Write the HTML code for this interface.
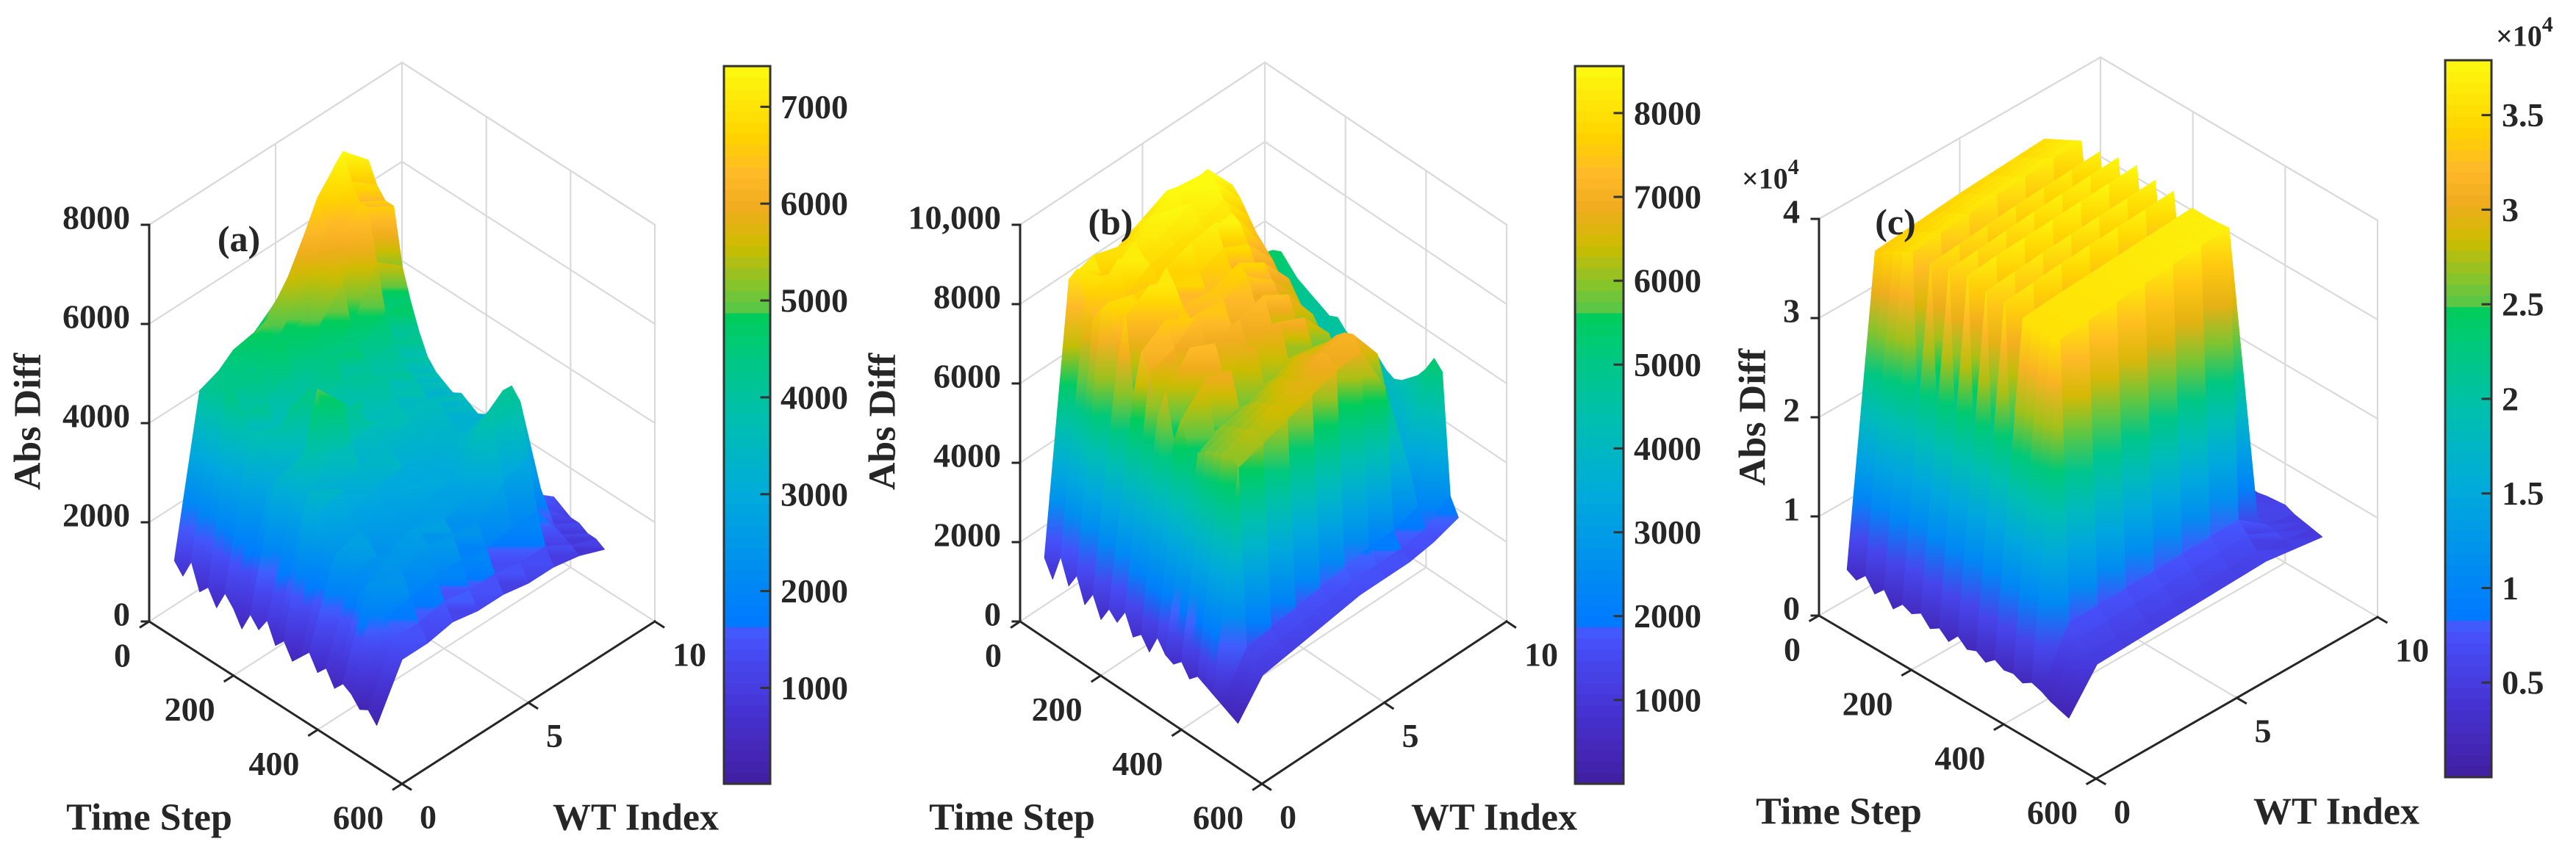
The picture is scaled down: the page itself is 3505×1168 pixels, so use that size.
<!DOCTYPE html>
<html><head><meta charset="utf-8"><style>
html,body{margin:0;padding:0;background:#fff;}
svg{display:block;}
text{font-family:"Liberation Serif","DejaVu Serif",serif;font-weight:bold;fill:#262626;}
</style></head><body>
<svg id="fig" width="3505" height="1168" viewBox="0 0 3505 1168" xmlns="http://www.w3.org/2000/svg">
<defs id="defs"></defs>
</svg>
<script>
const timeSteps=[0,20,40,60,80,100,120,140,160,180,200,220,240,260,280,300,320,340,360,380,400,420,440,460,480];
const wtIndex=[1,2,3,4,5,6,7,8,9,10];
const zA=[
[900,700,1100,600,800,500,900,700,400,800,600,900,500,700,400,600,800,500,700,400,600,500,300,400,200],
[4000,4200,4300,4200,4400,4100,3800,3000,2800,3200,3400,2900,2600,3400,3000,2500,2400,2700,2200,2000,2300,2400,1800,1500,1200],
[4200,4600,4500,4300,4500,4000,3600,3800,4300,3400,3600,4900,3600,3100,3200,2800,2600,2500,2300,2400,2500,2300,1900,1500,1200],
[4400,4700,5000,4600,4800,4300,3900,4200,3900,3500,3800,4300,3600,3200,3400,3000,2800,2700,2500,2600,2700,2500,2000,1600,1300],
[4800,5200,5700,5300,5000,4800,4300,4500,4100,3700,3900,3600,3700,3400,3300,3100,2900,3000,2800,2700,2600,2400,2000,1500,1200],
[5400,6200,6800,6200,5900,5400,4600,4300,4000,3900,4100,3800,3600,3500,3400,3300,3100,3000,2900,2800,2700,2300,1900,1500,1200],
[6200,7000,7400,6900,6600,6600,5600,4700,4200,4000,3800,3700,3500,3600,3500,3300,3200,3400,3600,3900,3700,2800,2000,1400,1100],
[5800,6500,6900,6500,6300,6300,5200,4600,4100,3700,3500,3400,3300,3400,3300,3200,3300,3600,4000,4200,4000,3000,2000,1400,1100],
[2500,2800,3000,2700,2600,2400,2200,2000,1800,1700,1600,1500,1500,1600,1500,1400,1400,1500,1600,1700,1500,1300,1200,1100,1000],
[1300,1400,1500,1400,1300,1300,1200,1200,1100,1100,1200,1100,1100,1200,1100,1000,1000,1100,1200,1100,1000,1000,900,900,800]];
const zB=[
[1200,800,1500,900,1300,700,1100,600,1000,800,1200,700,900,600,1100,800,700,900,600,800,700,600,500,400,300],
[7800,8200,7500,7200,7600,7900,6500,7800,6000,7200,6800,5800,6600,5500,6200,5000,5600,5800,5900,6000,6100,5900,1500,1300,1100],
[8000,7600,7800,8300,7500,7700,7400,8200,5200,7600,7000,6200,7300,5400,6800,5600,5900,6000,6100,6200,6300,6100,1600,1400,1200],
[7800,8000,8200,8000,7900,7600,8100,7800,7400,7200,7500,6600,7000,6400,6600,5800,6000,6200,6300,6400,6500,6300,1700,1500,1300],
[8100,8300,8500,8200,8000,7800,8300,7700,7300,7600,7400,6900,7200,6600,6800,6000,6200,6400,6500,6600,6700,6500,1800,1600,1400],
[8400,8600,8300,8500,8200,8000,8400,7900,7500,7800,7600,7000,7400,6800,7000,6200,6400,6600,6700,6900,7000,6700,1900,1700,1500],
[8200,8500,8800,8600,8300,8100,8000,7600,7200,7400,7100,6800,7000,6500,6700,6100,6300,6500,6800,7000,7100,6800,2000,1700,1500],
[7600,7900,8000,7800,7500,7200,7000,6800,6500,6600,6300,6000,6100,5800,5900,5500,5600,5700,5900,6100,6200,5500,2000,1700,1500],
[4200,4500,4600,4400,4200,4000,3800,3600,3400,3500,3300,3200,3300,3100,3200,3000,2900,3000,3100,3200,3300,3000,2200,1800,1600],
[5200,5400,5500,5300,5100,5000,4900,4800,4700,4800,4600,4500,4600,4400,4500,4300,4200,4300,4500,4700,5000,5400,5200,2200,1800]];
const zC=[
[3000,2500,3500,2200,3200,1800,2800,2400,3000,2000,2600,1800,2900,2100,2500,1900,2700,2200,2400,2000,2600,2300,1800,1500,1200],
[33500,34000,34500,35000,35500,9000,35500,13000,36000,11000,36500,12000,36000,10000,36000,14000,35500,35500,35500,35500,35500,7500,6500,5500,5000],
[33800,34300,34800,35300,35800,9500,35800,13500,36300,11500,36800,12500,36300,10500,36300,14500,35800,35800,35800,35800,35800,7600,6600,5600,5100],
[34100,34600,35100,35600,36100,10000,36100,14000,36600,12000,37000,13000,36600,11000,36600,15000,36000,36000,36000,36000,36000,7700,6700,5700,5200],
[34400,34900,35400,35900,36400,10500,36400,14500,36900,12500,37200,13500,36800,11500,36800,15500,36200,36200,36200,36200,36200,7800,6800,5800,5300],
[34600,35100,35600,36100,36600,11000,36600,15000,37100,13000,37400,14000,37000,12000,37000,16000,36400,36400,36400,36500,36500,7900,6900,5900,5400],
[34800,35300,35800,36300,36800,11500,36800,15500,37300,13500,37600,14500,37200,12500,37200,16500,36600,36600,36600,36700,36800,8000,7000,6000,5500],
[35000,35500,36000,36500,37000,12000,37000,16000,37500,14000,37800,15000,37400,13000,37400,17000,36800,36800,36800,36900,37000,8100,7100,6100,5600],
[6000,5800,6200,6000,5900,5500,6100,5600,6200,5700,6000,5600,6100,5800,6000,5700,6100,6000,6200,6300,6400,6000,5800,5500,5200],
[5500,5300,5600,5400,5300,5000,5500,5100,5600,5200,5400,5000,5500,5300,5400,5200,5500,5400,5600,5700,5800,5400,5200,5000,4800]];
const zTicksA=[0,2000,4000,6000,8000], zTickLabelsA=["0","2000","4000","6000","8000"];
const zTicksB=[0,2000,4000,6000,8000,10000], zTickLabelsB=["0","2000","4000","6000","8000","10,000"];
const zTicksC=[0,10000,20000,30000,40000], zTickLabelsC=["0","1","2","3","4"];
const cbTicksA=[1000,2000,3000,4000,5000,6000,7000], cbLabelsA=["1000","2000","3000","4000","5000","6000","7000"];
const cbTicksB=[1000,2000,3000,4000,5000,6000,7000,8000], cbLabelsB=["1000","2000","3000","4000","5000","6000","7000","8000"];
const cbTicksC=[5000,10000,15000,20000,25000,30000,35000], cbLabelsC=["0.5","1","1.5","2","2.5","3","3.5"];
const timeTicks=[0,200,400,600];
const wtTicks=[0,5,10];

const NS="http://www.w3.org/2000/svg";
const svg=document.getElementById('fig');
const defs=document.getElementById('defs');
let gid=0;
function mk(tag,attrs,parent){const e=document.createElementNS(NS,tag);for(const k in attrs)e.setAttribute(k,attrs[k]);(parent||svg).appendChild(e);return e;}

const CM=[[0,65,30,160],[0.1,70,50,210],[0.2,70,80,250],[0.225,60,100,255],[0.226,0,122,255],[0.3,0,142,240],[0.4,0,170,220],[0.5,0,190,180],[0.6,0,200,125],[0.655,0,205,90],[0.656,80,200,75],[0.7,140,195,40],[0.75,205,188,0],[0.8,240,172,30],[0.85,255,185,40],[0.9,255,210,0],[1,252,250,15]];
function cmap(f){f=Math.max(0,Math.min(1,f));for(let i=1;i<CM.length;i++){if(f<=CM[i][0]){const a=CM[i-1],b=CM[i];const u=(f-a[0])/(b[0]-a[0]||1);return 'rgb('+Math.round(a[1]+(b[1]-a[1])*u)+','+Math.round(a[2]+(b[2]-a[2])*u)+','+Math.round(a[3]+(b[3]-a[3])*u)+')';}}return 'rgb(252,250,15)';}

const panels=[
{id:'a',O:[203,846],F:[547,1067],R:[891,846],H:540,zmax:8000,cmin:10,cmax:7420,cb:[985,90,1048,1067],z:zA,zt:zTicksA,ztl:zTickLabelsA,cbt:cbTicksA,cbl:cbLabelsA,
 tsLab:[203,1113],wtLab:[865,1113],absLab:[38,574],pLab:[325,325]},
{id:'b',O:[1388,846],F:[1717,1067],R:[2050,846],H:540,zmax:10000,cmin:0,cmax:8560,cb:[2143,90,2209,1067],z:zB,zt:zTicksB,ztl:zTickLabelsB,cbt:cbTicksB,cbl:cbLabelsB,
 tsLab:[1377,1113],wtLab:[2033,1113],absLab:[1201,574],pLab:[1511,302]},
{id:'c',O:[2475,838],F:[2852,1060],R:[3235,840],H:540,zmax:40000,cmin:0,cmax:37900,cb:[3327,82,3390,1058],z:zC,zt:zTicksC,ztl:zTickLabelsC,cbt:cbTicksC,cbl:cbLabelsC,
 tsLab:[2502,1105],wtLab:[3179,1105],absLab:[2385,568],pLab:[2579,302],exp:true}
];

function txt(g,x,y,s,size,anchor,name,extra){const t=mk('text',Object.assign({x:x,y:y,'font-size':size,'text-anchor':anchor||'middle','dominant-baseline':'central'},extra||{}),g);t.textContent=s;return t;}

panels.forEach(P=>{
 const g=mk('g',{});
 
 
 const pr=(t,w,z)=>[P.O[0]+(P.F[0]-P.O[0])*t/600+(P.R[0]-P.F[0])*w/10, P.O[1]+(P.F[1]-P.O[1])*t/600+(P.R[1]-P.F[1])*w/10 - z/P.zmax*P.H];
 const line=(a,b,stroke,sw,name,par)=>{const l=mk('line',{x1:a[0],y1:a[1],x2:b[0],y2:b[1],stroke:stroke,'stroke-width':sw,'stroke-linecap':'square'},par||g);return l;};
 const grid=mk('g',{},g);
 
 
 const gc='#dadada',gw=2.2;
 P.zt.forEach(z=>{line(pr(0,0,z),pr(0,10,z),gc,gw,'grid-line',grid);line(pr(0,10,z),pr(600,10,z),gc,gw,'grid-line',grid);});
 line(pr(0,10,0),pr(0,10,P.zmax),gc,gw,'grid-line',grid);
 line(pr(0,5,0),pr(0,5,P.zmax),gc,gw,'grid-line',grid);
 [200,400,600].forEach(t=>line(pr(t,10,0),pr(t,10,P.zmax),gc,gw,'grid-line',grid));
 line(pr(0,0,P.zmax),pr(0,10,P.zmax),gc,gw,'grid-line',grid);
 line(pr(0,10,P.zmax),pr(600,10,P.zmax),gc,gw,'grid-line',grid);
 [200,400].forEach(t=>line(pr(t,0,0),pr(t,10,0),gc,gw,'grid-line',grid));
 line(pr(0,5,0),pr(600,5,0),gc,gw,'grid-line',grid);
 const surf=mk('g',{},g);
 
 
 const quads=[];
 for(let i=0;i<wtIndex.length-1;i++)for(let j=0;j<timeSteps.length-1;j++){
  const v=[[timeSteps[j],wtIndex[i],P.z[i][j]],[timeSteps[j+1],wtIndex[i],P.z[i][j+1]],[timeSteps[j+1],wtIndex[i+1],P.z[i+1][j+1]],[timeSteps[j],wtIndex[i+1],P.z[i+1][j]]];
  const tc=(timeSteps[j]+timeSteps[j+1])/2,wc=(wtIndex[i]+wtIndex[i+1])/2;
  quads.push({v:v,key:pr(tc,wc,0)[1]});
 }
 quads.sort((a,b)=>a.key-b.key);
 const cf=z=>(z-P.cmin)/(P.cmax-P.cmin);
 quads.forEach(q=>{
  const pts=q.v.map(p=>pr(p[0],p[1],p[2]));
  let mn=0,mx=0;q.v.forEach((p,k)=>{if(p[2]<q.v[mn][2])mn=k;if(p[2]>q.v[mx][2])mx=k;});
  const z0=q.v[mn][2],z1=q.v[mx][2];
  let fill;
  const y0=pts[mn][1],y1=pts[mx][1];
  if(z1-z0<150||Math.abs(y0-y1)<2){fill=cmap(cf((z0+z1)/2));}
  else{
   const id='g'+(gid++);
   const gr=mk('linearGradient',{id:id,gradientUnits:'userSpaceOnUse',x1:0,x2:0,y1:y0,y2:y1},defs);
   for(let s=0;s<=8;s++){const u=s/8;mk('stop',{offset:u,'stop-color':cmap(cf(z0+(z1-z0)*u))},gr);}
   fill='url(#'+id+')';
  }
  const poly=mk('polygon',{points:pts.map(p=>p[0].toFixed(1)+','+p[1].toFixed(1)).join(' '),fill:fill,stroke:fill,'stroke-width':1.2,'stroke-linejoin':'round'},surf);
  
  
 });
 const ac='#262626';
 line(pr(0,0,0),pr(0,0,P.zmax),ac,3,'z-axis');
 line(pr(0,0,0),pr(600,0,0),ac,3,'time-axis');
 line(pr(600,0,0),pr(600,10,0),ac,3,'wt-axis');
 P.zt.forEach((z,k)=>{const p=pr(0,0,z);line([p[0]-10,p[1]],p,ac,3,'z-tick');txt(g,p[0]-26,p[1]-10,P.ztl[k],46,'end','z-tick-label');});
 const dw=[P.R[0]-P.F[0],P.R[1]-P.F[1]],lw=Math.hypot(dw[0],dw[1]);
 timeTicks.forEach(t=>{const p=pr(t,0,0);line(p,[p[0]-dw[0]/lw*14,p[1]-dw[1]/lw*14],ac,3,'time-tick');txt(g,p[0]-25,p[1]+46,String(t),46,'end','time-tick-label');});
 const dt=[P.F[0]-P.O[0],P.F[1]-P.O[1]],lt=Math.hypot(dt[0],dt[1]);
 wtTicks.forEach(w=>{const p=pr(600,w,0);line(p,[p[0]+dt[0]/lt*14,p[1]+dt[1]/lt*14],ac,3,'wt-tick');txt(g,p[0]+24,p[1]+45,String(w),46,'start','wt-tick-label');});
 txt(g,P.tsLab[0],P.tsLab[1],'Time Step',52,'middle','time-axis-title');
 txt(g,P.wtLab[0],P.wtLab[1],'WT Index',52,'middle','wt-axis-title');
 txt(g,P.absLab[0],P.absLab[1],'Abs Diff',52,'middle','z-axis-title',{transform:'rotate(-90 '+P.absLab[0]+' '+P.absLab[1]+')'});
 txt(g,P.pLab[0],P.pLab[1],'('+P.id+')',50,'middle','panel-label');
 if(P.exp){const e=txt(g,2370,243,'×10',40,'start','z-exponent');const s=mk('tspan',{dy:-16,'font-size':30},e);s.textContent='4';}
 const cb=mk('g',{},g);
 
 
 const [x0,yt,x1,yb]=P.cb,N=64;
 for(let k=0;k<N;k++){const r=mk('rect',{x:x0,y:(yb-(k+1)*(yb-yt)/N).toFixed(2),width:x1-x0,height:((yb-yt)/N+0.6).toFixed(2),fill:cmap((k+0.5)/N)},cb);}
 const bd=mk('rect',{x:x0,y:yt,width:x1-x0,height:yb-yt,fill:'none',stroke:'#333','stroke-width':3},cb);
 
 P.cbt.forEach((v,k)=>{const y=yb-(v-P.cmin)/(P.cmax-P.cmin)*(yb-yt);line([x1-12,y],[x1,y],'#333',3,'colorbar-tick',cb);txt(cb,x1+14,y,P.cbl[k],46,'start','colorbar-tick-label');});
 if(P.exp){const e=txt(cb,3396,49,'×10',40,'start','colorbar-exponent');const s=mk('tspan',{dy:-16,'font-size':30},e);s.textContent='4';}
});
</script>
</body></html>
